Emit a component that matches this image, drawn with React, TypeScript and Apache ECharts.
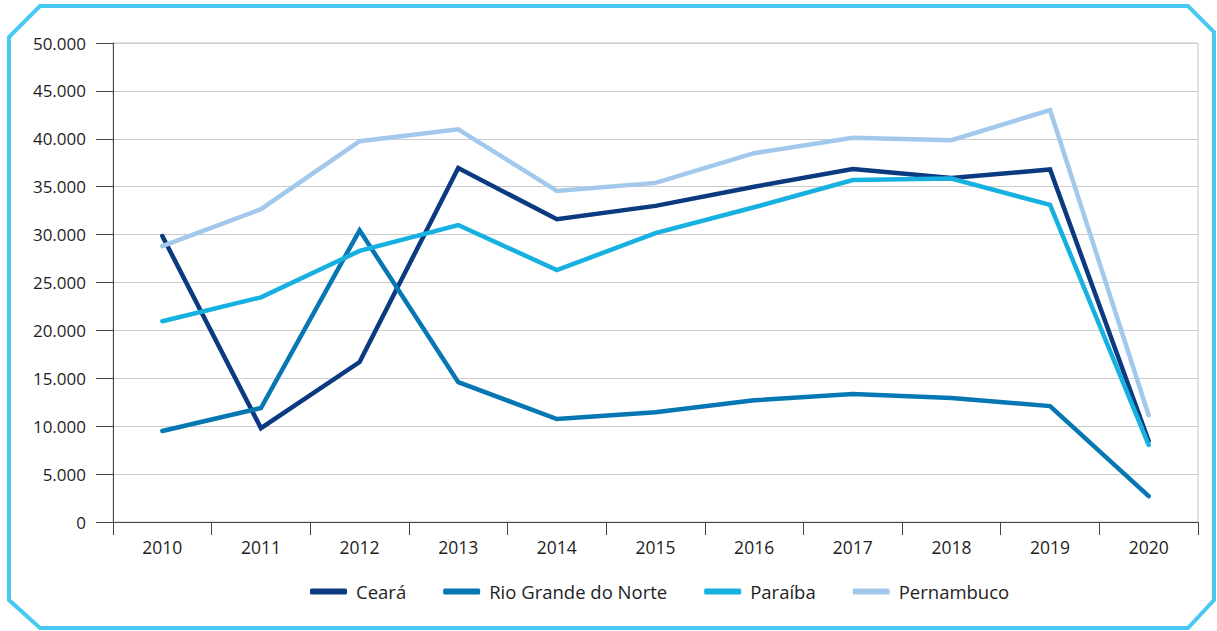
import React, { useEffect, useRef } from "react";
import * as echarts from "echarts";

const years = ["2010", "2011", "2012", "2013", "2014", "2015", "2016", "2017", "2018", "2019", "2020"];
const ceara = [29850, 9800, 16700, 36950, 31600, 33000, 35000, 36850, 35900, 36800, 8450];
const rioGrande = [9500, 11900, 30450, 14600, 10750, 11450, 12700, 13350, 12950, 12100, 2700];
const paraiba = [20950, 23450, 28300, 31000, 26300, 30150, 32850, 35700, 35850, 33100, 8050];
const pernambuco = [28800, 32650, 39750, 41000, 34550, 35400, 38500, 40100, 39850, 43000, 11150];

const seriesNames = ["Ceará", "Rio Grande do Norte", "Paraíba", "Pernambuco"];
const seriesColors = ["#0b3a80", "#0677b3", "#16b1e0", "#a2c9ec"];
const seriesData = [ceara, rioGrande, paraiba, pernambuco];

const fmt = (v: number) => (v === 0 ? "0" : String(v).replace(/(\d)(?=(\d{3})+$)/g, "$1."));

export default function App() {
  const ref = useRef<HTMLDivElement>(null);
  useEffect(() => {
    if (!ref.current) return;
    const chart = echarts.init(ref.current, null, { renderer: "svg" });
    chart.setOption({
      animation: false,
      textStyle: { fontFamily: "Open Sans" },
      graphic: [
        {
          type: "polygon",
          shape: {
            points: [
              [40, 6], [1188, 6], [1214, 32], [1214, 600], [1188, 628], [40, 628], [9, 600], [9, 37],
            ],
          },
          style: { fill: "none", stroke: "#49c9f2", lineWidth: 4 },
          z: 100,
        },
      ],
      grid: {
        left: 113, right: 19, top: 43, bottom: 109,
        show: true, borderColor: "#c8c8c8", borderWidth: 1,
      },
      legend: {
        bottom: 25,
        left: 305,
        itemWidth: 37,
        itemHeight: 6,
        itemGap: 37,
        icon: "roundRect",
        textStyle: { fontSize: 18.5, color: "#1e1e1e", fontFamily: "Open Sans", padding: [0, 0, 0, 4] },
        data: seriesNames,
      },
      xAxis: {
        type: "category",
        data: years,
        boundaryGap: true,
        axisLine: { lineStyle: { color: "#444", width: 1 } },
        axisTick: { show: true, length: 13, inside: false, lineStyle: { color: "#444" } },
        axisLabel: { fontSize: 17.5, color: "#1e1e1e", margin: 16 },
      },
      yAxis: {
        type: "value",
        min: 0,
        max: 50000,
        interval: 5000,
        axisLine: { show: true, lineStyle: { color: "#444", width: 1 } },
        axisTick: { show: true, length: 17, lineStyle: { color: "#444" } },
        axisLabel: { fontSize: 17, color: "#1e1e1e", margin: 27, formatter: (v: number) => fmt(v) },
        splitLine: { lineStyle: { color: "#cccccc", width: 1 } },
      },
      series: seriesData.map((d, i) => ({
        name: seriesNames[i],
        type: "line",
        data: d,
        showSymbol: false,
        symbol: "none",
        color: seriesColors[i],
        lineStyle: { width: 4.5, color: seriesColors[i], cap: "round", join: "miter" },
        itemStyle: { color: seriesColors[i] },
      })),
    });
    return () => chart.dispose();
  }, []);
  return <div ref={ref} style={{ width: 1217, height: 631, position: "absolute", left: 0, top: 0 }} />;
}
